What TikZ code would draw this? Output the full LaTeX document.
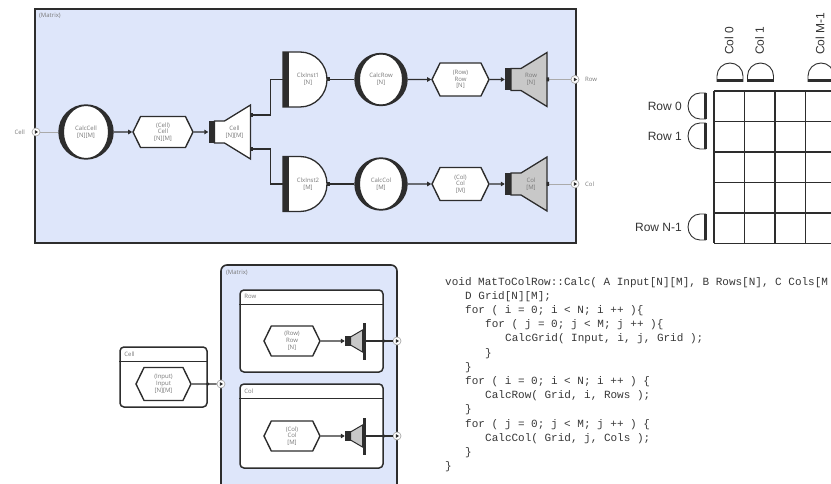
\documentclass[tikz,border=0pt]{standalone}
\usepackage{fontspec}
\setmainfont{Liberation Sans}
\setmonofont{Liberation Mono}
\newfontfamily\uifont{Open Sans}
\usetikzlibrary{arrows.meta,shapes.symbols}

\definecolor{mxblue}{RGB}{222,230,250}
\definecolor{mxline}{RGB}{45,45,45}
\definecolor{mxgray}{RGB}{200,200,200}
\definecolor{mxtext}{RGB}{120,120,120}
\definecolor{mxwire}{RGB}{170,170,170}
\definecolor{mxcode}{RGB}{55,55,55}

% port: small circle with a triangle inside
\newcommand{\portsym}[2]{
  \node[portc] (#1) at (#2) {};
  \fill[mxline] ([shift={(-1.2pt,2pt)}]#1.center) -- ++(3.2pt,-2pt) -- ++(-3.2pt,-2pt) -- cycle;
}

% thick crescents on both sides of a calc circle
% #1=node, #2=radius
\newcommand{\crescent}[2]{
  \begin{scope}
    \clip (#1.center) circle[radius=#2];
    \fill[mxline, even odd rule] (#1.center) circle[radius=#2] (#1.center) ellipse[x radius=#2-5, y radius=#2-1];
  \end{scope}
}

% instance block: bar on the left, round on the right
% #1=name, #2=position, #3=text
\newcommand{\clxnode}[3]{
  \node[minimum width=44pt, minimum height=55pt, inner sep=0pt] (#1) at (#2) {};
  \begin{scope}[shift={(#1.center)}]
    \draw[mxline, line width=1.3pt, fill=white] (-22,27.5) -- (-5,27.5) arc[start angle=90, end angle=-90, x radius=27, y radius=27.5] -- (-22,-27.5) -- cycle;
    \fill[mxline] (-22,-27.5) rectangle (-16,27.5);
  \end{scope}
  \node[lbl] (#1-txt) at ([xshift=3pt]#1.center) {#3};
}

% mux / demux: bar, neck, flared body
% #1=name, #2=position, #3=fill, #4=text
\newcommand{\muxnode}[4]{
  \node[minimum width=42pt, minimum height=54pt, inner sep=0pt] (#1) at (#2) {};
  \begin{scope}[shift={(#1.center)}]
    \draw[mxline, line width=1.3pt, fill=#3] (-15,11) -- (-5,11) -- (21,27) -- (21,-27) -- (-5,-11) -- (-15,-11) -- cycle;
    \fill[mxline] (-21,-11) rectangle (-15,11);
  \end{scope}
  \node[lbl] (#1-txt) at ([xshift=5pt]#1.center) {#4};
}

% small collector with tall output bar
\newcommand{\tapnode}[2]{
  \node[minimum width=21pt, minimum height=37pt, inner sep=0pt] (#1) at (#2) {};
  \begin{scope}[shift={(#1.center)}]
    \draw[mxline, line width=1pt, fill=mxgray] (-5,4) -- (7,11) -- (7,-11) -- (-5,-4) -- cycle;
    \fill[mxline] (-10.5,-5) rectangle (-5,5);
    \fill[mxline] (7,-18.5) rectangle (10.5,18.5);
  \end{scope}
}

\begin{document}
\begin{tikzpicture}[x=1pt, y=1pt,
  lbl/.style={font=\uifont\fontsize{6}{6.8}\selectfont, text=mxtext, align=center, inner sep=0pt},
  wire/.style={mxline, line width=1.1pt},
  faint/.style={mxwire, line width=0.7pt},
  arrowin/.style={-{Triangle[length=4pt,width=4.5pt]}},
  stubout/.style={{Square[length=2.5pt,width=4pt]}-},
  hexa/.style={signal, signal to=east and west, signal pointer angle=128, draw=mxline, line width=1.4pt, fill=white, minimum width=#1, minimum height=31pt, lbl},
  calcnode/.style={circle, draw=mxline, line width=1.4pt, fill=white, minimum size=#1, lbl},
  portc/.style={circle, draw=mxwire, fill=white, line width=0.7pt, minimum size=8pt, inner sep=0pt},
  grpbox/.style={rectangle, rounded corners=4pt, draw=mxline, line width=1.5pt, fill=white, inner sep=0pt},
  gridlbl/.style={font=\fontsize{12}{14}\selectfont, text=black!80, inner sep=0pt},
  code/.style={anchor=base west, font=\ttfamily\frenchspacing\fontsize{11}{13}\selectfont, text=mxcode, inner sep=0pt}
]
\useasboundingbox (0,0) rectangle (831,-484);
\clip (0,0) rectangle (831,-484);

% ── Top: Matrix dataflow ──
\draw[mxline, line width=1.4pt, fill=mxblue] (35,-9) rectangle (576,-243);
\node[lbl, anchor=west] (toptitle) at (39,-16) {(Matrix)};

\portsym{cellin}{36,-132}
\node[lbl, anchor=east] (cellinlbl) at (25,-132) {Cell};

\node[calcnode=54pt] (calccell) at (86,-132) {CalcCell\\{}[N][M]};
\crescent{calccell}{27}
\node[hexa=60pt] (cellbuf) at (163,-132) {(Cell)\\Cell\\{}[N][M]};
\muxnode{celldmx}{229.5,-132}{white}{Cell\\{}[N][M]}

% row branch
\clxnode{clx1}{305,-79.5}{ClxInst1\\{}[N]}
\node[calcnode=52pt] (calcrow) at (381,-79.5) {CalcRow\\{}[N]};
\crescent{calcrow}{26}
\node[hexa=57pt, minimum height=33pt] (rowbuf) at (460.5,-79.5) {(Row)\\Row\\{}[N]};
\muxnode{rowmux}{526,-79.5}{mxgray}{Row\\{}[N]}
\portsym{rowport}{575,-79.5}
\node[lbl, anchor=west] (rowportlbl) at (585,-79.5) {Row};

% col branch
\clxnode{clx2}{305,-184}{ClxInst2\\{}[M]}
\node[calcnode=52pt] (calccol) at (381,-184) {CalcCol\\{}[M]};
\crescent{calccol}{26}
\node[hexa=57pt, minimum height=33pt] (colbuf) at (460.5,-184) {(Col)\\Col\\{}[M]};
\muxnode{colmux}{526,-184}{mxgray}{Col\\{}[M]}
\portsym{colport}{575,-184}
\node[lbl, anchor=west] (colportlbl) at (585,-184) {Col};

% wires
\draw[faint] (cellin) -- (calccell);
\draw[wire, arrowin] (calccell) -- (cellbuf);
\draw[wire, arrowin] (cellbuf) -- (celldmx);
\draw[wire, stubout] ([yshift=17pt]celldmx.east) -- ++(20,0) |- (clx1);
\draw[wire, stubout] ([yshift=-17pt]celldmx.east) -- ++(20,0) |- (clx2);
\draw[wire, stubout] (clx1) -- (calcrow);
\draw[wire, arrowin] (calcrow) -- (rowbuf);
\draw[wire, arrowin] (rowbuf) -- (rowmux);
\draw[faint] (rowmux) -- (rowport);
\fill[mxline] ([xshift=-0.5pt]rowmux.east) rectangle ++(2.5pt,2pt) ++(0,-4pt) rectangle ++(-2.5pt,2pt);
\draw[wire, stubout] (clx2) -- (calccol);
\draw[wire, arrowin] (calccol) -- (colbuf);
\draw[wire, arrowin] (colbuf) -- (colmux);
\draw[faint] (colmux) -- (colport);
\fill[mxline] ([xshift=-0.5pt]colmux.east) rectangle ++(2.5pt,2pt) ++(0,-4pt) rectangle ++(-2.5pt,2pt);

% ── Grid ──
\foreach \i in {0,...,5}
  \draw[mxline, line width=1.2pt] (714,-91-30.5*\i) -- (840,-91-30.5*\i);
\foreach \j in {0,...,4}
  \draw[mxline, line width=1.2pt] (714+30.5*\j,-91) -- (714+30.5*\j,-243.5);

% row sockets
\foreach \r/\y [count=\n] in {Row 0/106, Row 1/136, Row N-1/227} {
  \draw[mxline, line width=0.9pt] (706,-\y+13) -- (700,-\y+13) arc[start angle=90, end angle=270, x radius=12, y radius=13] -- (706,-\y-13);
  \fill[mxline] (703.5,-\y-13) rectangle (706.5,-\y+13);
  \node[gridlbl, anchor=east] (rowlbl\n) at (682,-\y) {\r};
}

% col sockets
\foreach \c/\x [count=\n] in {Col 0/730, Col 1/760.5, Col M-1/821} {
  \draw[mxline, line width=0.9pt] (\x-13,-82) -- (\x-13,-76) arc[start angle=180, end angle=0, radius=13] -- (\x+13,-82);
  \fill[mxline] (\x-13,-82.5) rectangle (\x+13,-79.5);
  \node[gridlbl, rotate=90, anchor=west] (collbl\n) at (\x-1,-55) {\c};
}

% ── Bottom: nested blocks ──
\draw[mxline, line width=1.6pt, fill=mxblue, rounded corners=6pt] (221,-265) rectangle (397,-494);
\node[lbl, anchor=west] (mtxtitle) at (226,-273) {(Matrix)};

\node[grpbox, minimum width=87pt, minimum height=60pt] (cellgrp) at (163.5,-377) {};
\node[lbl, anchor=west] (cellgrptitle) at ([xshift=5pt,yshift=-7.5pt]cellgrp.north west) {Cell};
\draw[mxline, line width=1.2pt] ([yshift=-15pt]cellgrp.north west) -- ([yshift=-15pt]cellgrp.north east);
\node[hexa=55pt, minimum height=33pt] (inbuf) at (163.5,-384) {(Input)\\Input\\{}[N][M]};

\node[grpbox, minimum width=143pt, minimum height=82pt] (rowgrp) at (311.5,-331) {};
\node[lbl, anchor=west] (rowgrptitle) at ([xshift=5pt,yshift=-7.5pt]rowgrp.north west) {Row};
\draw[mxline, line width=1.2pt] ([yshift=-15pt]rowgrp.north west) -- ([yshift=-15pt]rowgrp.north east);
\node[hexa=56pt, minimum height=30pt] (rowbuf2) at (292,-341) {(Row)\\Row\\{}[N]};
\tapnode{rowtap}{355.5,-341}

\node[grpbox, minimum width=143pt, minimum height=84pt] (colgrp) at (311.5,-426) {};
\node[lbl, anchor=west] (colgrptitle) at ([xshift=5pt,yshift=-7.5pt]colgrp.north west) {Col};
\draw[mxline, line width=1.2pt] ([yshift=-15pt]colgrp.north west) -- ([yshift=-15pt]colgrp.north east);
\node[hexa=56pt, minimum height=30pt] (colbuf2) at (292,-436) {(Col)\\Col\\{}[M]};
\tapnode{coltap}{355.5,-436}

\portsym{mtxin}{221,-384}
\portsym{rowout}{397,-341}
\portsym{colout}{397,-436}

\draw[wire] (inbuf) -- (mtxin);
\fill[mxline] (cellgrp.east |- inbuf) circle[radius=1.8pt];
\draw[wire, arrowin] (rowbuf2) -- (rowtap);
\draw[wire] (rowtap) -- (rowout);
\fill[mxline] (rowgrp.east |- rowout) circle[radius=1.8pt];
\draw[wire, arrowin] (colbuf2) -- (coltap);
\draw[wire] (coltap) -- (colout);
\fill[mxline] (colgrp.east |- colout) circle[radius=1.8pt];

% ── Code ──
\node[code] (ln1) at (445,-285.0) {void MatToColRow::Calc( A Input[N][M], B Rows[N], C Cols[M};
\node[code] (ln2) at (465,-299.2) {D Grid[N][M];};
\node[code] (ln3) at (465,-313.4) {for ( i = 0; i < N; i ++ )\{};
\node[code] (ln4) at (485,-327.6) {for ( j = 0; j < M; j ++ )\{};
\node[code] (ln5) at (505,-341.8) {CalcGrid( Input, i, j, Grid );};
\node[code] (ln6) at (485,-356.0) {\}};
\node[code] (ln7) at (465,-370.2) {\}};
\node[code] (ln8) at (465,-384.4) {for ( i = 0; i < N; i ++ ) \{};
\node[code] (ln9) at (485,-398.6) {CalcRow( Grid, i, Rows );};
\node[code] (ln10) at (465,-412.8) {\}};
\node[code] (ln11) at (465,-427.0) {for ( j = 0; j < M; j ++ ) \{};
\node[code] (ln12) at (485,-441.2) {CalcCol( Grid, j, Cols );};
\node[code] (ln13) at (465,-455.4) {\}};
\node[code] (ln14) at (445,-469.6) {\}};

\end{tikzpicture}
\end{document}
